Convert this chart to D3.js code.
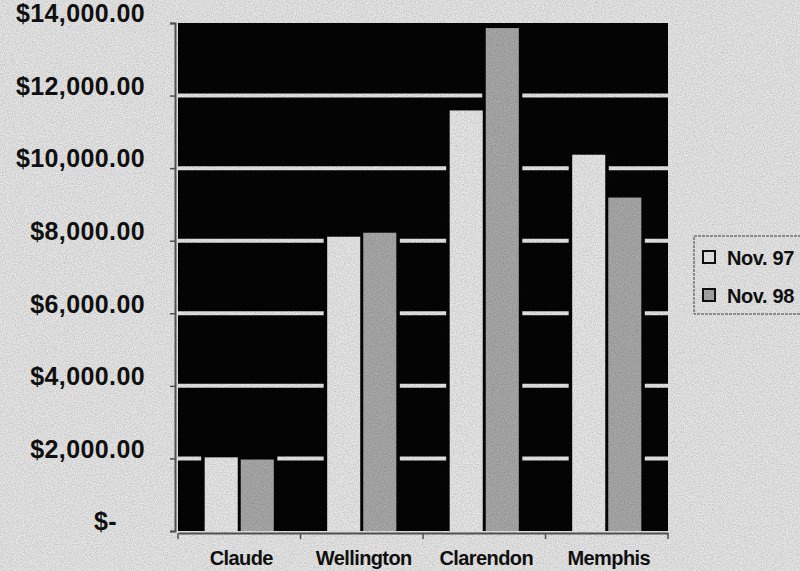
<!DOCTYPE html>
<html>
<head>
<meta charset="utf-8">
<script src="https://cdn.jsdelivr.net/npm/d3@7"></script>
<style>
  body { margin: 0; background: #e6e6e6; }
  svg { display: block; }
</style>
</head>
<body>
<script>
let width = 800,
  height = 571

let categories = ['Claude', 'Wellington', 'Clarendon', 'Memphis']
let series = ['Nov. 97', 'Nov. 98']
let nov97 = [2030, 8110, 11590, 10370]
let nov98 = [1970, 8220, 13860, 9190]
let yTicks = [0, 2000, 4000, 6000, 8000, 10000, 12000, 14000]
let seriesColors = ['#e8e8e8', '#a9a9a9']

let plot = { left: 178, right: 668, top: 23, bottom: 531 }

let svg = d3.select('body').append('svg')
  .attr('width', width)
  .attr('height', height)

// scanned paper look
let defs = svg.append('defs')
let noise = defs.append('filter').attr('id', 'noise')
noise.append('feTurbulence')
  .attr('type', 'fractalNoise')
  .attr('baseFrequency', 0.9)
  .attr('numOctaves', 2)
  .attr('seed', 3)
noise.append('feColorMatrix')
  .attr('type', 'matrix')
  .attr('values', '0 0 0 0 0  0 0 0 0 0  0 0 0 0 0  0 0 0 -1.6 1.1')

svg.append('rect')
  .attr('width', width).attr('height', height)
  .attr('fill', '#e7e7e7')

let x = d3.scaleBand()
  .domain(categories)
  .range([plot.left, plot.right])

let xSub = d3.scaleBand()
  .domain(series)
  .range([0, x.bandwidth()])
  .paddingInner(0.083)
  .paddingOuter(0.74)

let y = d3.scaleLinear()
  .domain([0, 14000])
  .range([plot.bottom, plot.top])

// black plot area
svg.append('rect')
  .attr('x', plot.left)
  .attr('y', plot.top)
  .attr('width', plot.right - plot.left)
  .attr('height', plot.bottom - plot.top)
  .attr('fill', '#050505')

// white gridlines
svg.append('g')
  .selectAll('line')
  .data(yTicks.filter(d => d > 0 && d < 14000))
  .enter().append('line')
  .attr('x1', plot.left)
  .attr('x2', plot.right)
  .attr('y1', d => y(d))
  .attr('y2', d => y(d))
  .attr('stroke', '#e6e6e6')
  .attr('stroke-width', 4)

let rows = categories.map((c, i) => ({ cat: c, values: [nov97[i], nov98[i]] }))

let groups = svg.append('g').selectAll('.group')
  .data(rows)
  .enter().append('g')
  .attr('class', 'group')
  .attr('transform', d => `translate(${x(d.cat)},0)`)

let bars = groups.selectAll('.bar')
  .data(d => d.values.map((v, i) => ({ key: series[i], value: v, idx: i })))
  .enter()

// black halo around every bar, it cuts the gridlines
bars.append('rect')
  .attr('x', d => xSub(d.key) - 3.5)
  .attr('y', d => y(d.value) - 3.5)
  .attr('width', xSub.bandwidth() + 7)
  .attr('height', d => plot.bottom - y(d.value) + 3.5)
  .attr('fill', '#050505')

bars.append('rect')
  .attr('x', d => xSub(d.key))
  .attr('y', d => y(d.value))
  .attr('width', xSub.bandwidth())
  .attr('height', d => plot.bottom - y(d.value))
  .attr('fill', d => seriesColors[d.idx])

// axes
let yAxis = svg.append('g')
  .attr('transform', `translate(${plot.left - 3},0)`)
  .call(d3.axisLeft(y)
    .tickValues(yTicks)
    .tickSize(5)
    .tickPadding(25)
    .tickFormat(d => d === 0 ? '$-' : d3.format('$,.2f')(d)))

yAxis.select('.domain').attr('stroke', '#555').attr('stroke-width', 2)
yAxis.selectAll('.tick line').attr('stroke', '#555').attr('stroke-width', 1.5)
yAxis.selectAll('.tick text')
  .attr('dy', '-0.05em')
  .attr('fill', '#111')
  .attr('font-family', '"Liberation Sans", Arial, sans-serif')
  .attr('font-weight', 'bold')
  .attr('font-size', 25)
  .attr('letter-spacing', 0.4)
  .filter(d => d === 0)
  .attr('dx', -28)

let xAxis = svg.append('g')
  .attr('transform', `translate(0,${plot.bottom + 2})`)
  .call(d3.axisBottom(x).tickSize(0).tickPadding(18))

xAxis.select('.domain').attr('stroke', '#555').attr('stroke-width', 2)
xAxis.selectAll('.tick text')
  .attr('dx', 2)
  .attr('fill', '#111')
  .attr('font-family', '"Liberation Sans", Arial, sans-serif')
  .attr('font-weight', 'bold')
  .attr('font-size', 20)
  .attr('letter-spacing', -0.6)

// tick marks between categories
xAxis.selectAll('.sep')
  .data(categories.map(c => x(c)).concat([plot.right]))
  .enter().append('line')
  .attr('x1', d => d).attr('x2', d => d)
  .attr('y1', 0).attr('y2', 6)
  .attr('stroke', '#555').attr('stroke-width', 1.5)

// legend
let legend = svg.append('g').attr('transform', 'translate(694,236)')
legend.append('rect')
  .attr('width', 120).attr('height', 78)
  .attr('fill', 'none')
  .attr('stroke', '#444')
  .attr('stroke-width', 1)
  .attr('stroke-dasharray', '3,1')

let item = legend.selectAll('.legend-item')
  .data(series)
  .enter().append('g')
  .attr('class', 'legend-item')
  .attr('transform', (d, i) => `translate(9,${15 + i * 38})`)

item.append('rect')
  .attr('width', 12).attr('height', 12)
  .attr('fill', (d, i) => seriesColors[i])
  .attr('stroke', '#111')
  .attr('stroke-width', 2)

item.append('text')
  .attr('x', 24)
  .attr('y', 14)
  .attr('fill', '#111')
  .attr('font-family', '"Liberation Sans", Arial, sans-serif')
  .attr('font-size', 20)
  .attr('font-weight', 'bold')
  .attr('letter-spacing', -0.4)
  .text(d => d)

// grain over everything
svg.append('rect')
  .attr('width', width).attr('height', height)
  .attr('filter', 'url(#noise)')
  .attr('opacity', 0.18)
  .style('pointer-events', 'none')
</script>
</body>
</html>
